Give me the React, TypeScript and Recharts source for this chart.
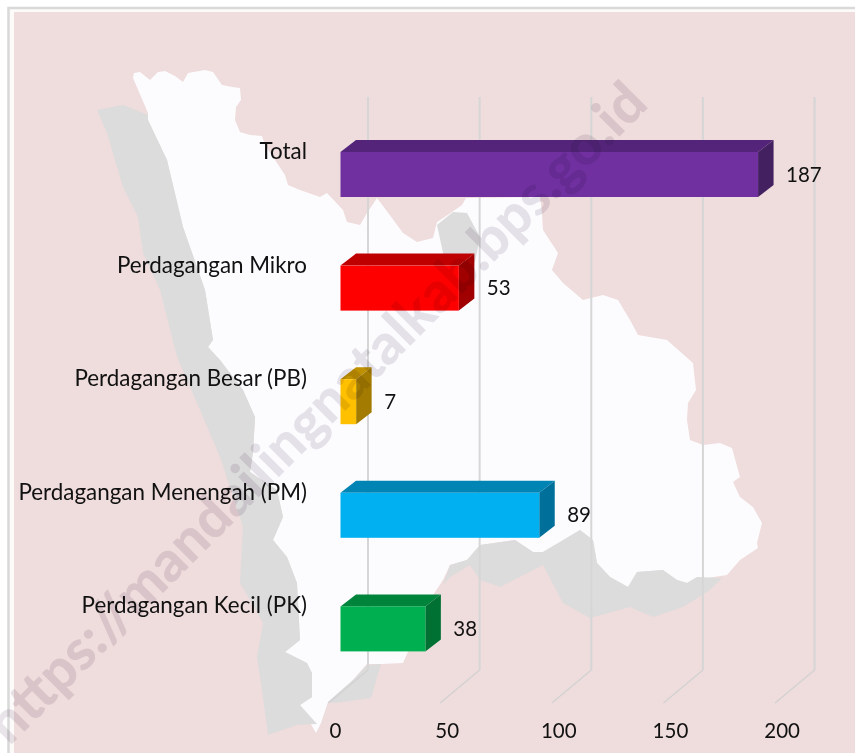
import React from "react";
import { BarChart, Bar, XAxis, YAxis, CartesianGrid, LabelList } from "recharts";

const categories = ["Total", "Perdagangan Mikro", "Perdagangan Besar (PB)", "Perdagangan Menengah (PM)", "Perdagangan Kecil (PK)"];
const values = [187, 53, 7, 89, 38];
const frontColors = ["#7030a0", "#ff0000", "#ffc000", "#00b0f0", "#00b050"];
const topColors = ["#53247a", "#bf0000", "#bf9000", "#0084b4", "#00843c"];
const sideColors = ["#43205f", "#a00000", "#a37b00", "#00709a", "#007033"];
const xTicks = [0, 50, 100, 150, 200];
const data = categories.map((name, i) => ({ name, value: values[i], front: frontColors[i], top: topColors[i], side: sideColors[i] }));

const FONT = "Lato, Carlito, sans-serif";
const DX = 15.5;
const DY = 12;

const landPts = "134,73 140,72 150,80 158,72 165,71 175,76 183,82 188,73 205,70 213,72 222,85 232,87 240,88 241,100 236,107 235,120 240,132 250,135 262,136 265,145 275,160 285,175 288,185 300,190 320,197 327,193 343,210 347,222 360,225 367,213 377,198 392,218 403,233 417,242 433,238 437,222 452,212 462,205 466,198 540,197 542,213 543,230 558,253 552,270 563,283 583,300 603,295 618,300 630,320 638,335 667,340 693,363 696,390 688,403 687,420 690,440 703,445 720,443 732,448 740,477 733,482 740,497 753,507 762,523 757,543 758,548 740,560 727,575 707,578 697,577 687,583 677,580 663,570 637,572 628,587 610,577 597,563 593,540 580,530 560,542 543,552 533,552 515,540 480,545 467,560 450,565 443,580 433,595 403,663 381,664 367,664 353,680 328,702 321,723 316,733 300,705 312,697 312,673 307,663 285,652 300,640 297,583 287,557 273,540 283,517 277,490 250,472 253,453 255,417 243,390 220,360 208,347 213,340 205,290 183,227 167,160 148,120 148,113 133,78";
const westPts = "97,110 123,105 148,115 148,120 167,160 183,227 205,290 213,340 208,347 220,360 243,390 255,417 253,453 250,472 277,490 283,517 273,540 287,557 297,583 300,640 285,652 307,663 312,673 312,697 300,705 317,724 297,725 268,735 262,690 257,657 263,623 240,583 243,527 220,457 203,417 177,357 160,290 143,253 138,217 123,187 107,133";
const southPts = "450,565 467,560 480,545 515,540 533,552 543,552 580,530 593,540 597,563 610,577 628,587 637,572 663,570 677,580 687,583 697,577 722,578 710,590 683,607 653,617 630,607 590,618 563,603 543,565 500,587 480,580 470,565 450,577 443,585";
const tipPts = "328,702 353,680 367,665 381,664 371,698 335,703";
const isletPts = "437,225 453,212 467,213 480,237 475,262 445,262";

function Bar3D(props: any) {
  const { x, y, width, height, payload } = props;
  return (
    <g>
      <polygon points={`${x},${y} ${x + DX},${y - DY} ${x + width + DX},${y - DY} ${x + width},${y}`} fill={payload.top} />
      <polygon points={`${x + width},${y} ${x + width + DX},${y - DY} ${x + width + DX},${y + height - DY} ${x + width},${y + height}`} fill={payload.side} />
      <rect x={x} y={y} width={width} height={height} fill={payload.front} />
    </g>
  );
}

function GridLine(props: any) {
  const { x1, y1, y2 } = props;
  const bx = x1 + 27.5;
  return (
    <g fill="none">
      <line x1={bx} x2={bx} y1={y1 - 21} y2={y2 - 16} stroke="#d6d6d6" strokeWidth={2} />
      <line x1={bx} x2={x1 - 12} y1={y2 - 16} y2={y2 + 17} stroke="#d2d2d2" strokeWidth={1.2} />
    </g>
  );
}

function XTick(props: any) {
  const { x, payload } = props;
  return (
    <text x={x - 5} y={733} textAnchor="middle" dominantBaseline="middle" fontFamily={FONT} fontSize={20.5} fill="#111">
      {payload.value}
    </text>
  );
}

function YTick(props: any) {
  const { y, payload } = props;
  return (
    <text x={307} y={y - 21.5} textAnchor="end" dominantBaseline="middle" fontFamily={FONT} fontSize={22.4} fill="#111">
      {payload.value}
    </text>
  );
}

function ValueLabel(props: any) {
  const { x, y, width, height, value } = props;
  return (
    <text x={x + width + 28} y={y + height / 2 + 2} textAnchor="start" dominantBaseline="middle" fontFamily={FONT} fontSize={20.5} fill="#111">
      {value}
    </text>
  );
}

export default function App() {
  return (
    <div style={{ position: "absolute", left: 0, top: 0, width: 855, height: 753, overflow: "hidden", background: "#fff" }}>
      <svg width={855} height={753} style={{ position: "absolute", left: 0, top: 0 }}>
        <rect x={8.5} y={8} width={860} height={760} fill="#fdfafa" stroke="#d9d9d9" strokeWidth={2.5} />
        <rect x={14} y={12} width={850} height={750} fill="#efdcdc" />
        <polygon points={landPts} fill="#fcfcff" />
        <polygon points={westPts} fill="#dcdcdc" />
        <polygon points={southPts} fill="#dcdcdc" />
        <polygon points={tipPts} fill="#dcdcdc" />
        <polygon points={isletPts} fill="#dcdcdc" />
      </svg>
      <div style={{ position: "absolute", left: 0, top: 0 }}>
        <BarChart
          width={855}
          height={753}
          layout="vertical"
          data={data}
          margin={{ left: 330.5, top: 118, right: 67.9, bottom: 57 }}
          barSize={45}
        >
          <CartesianGrid horizontal={false} vertical={(p: any) => <GridLine key={p.key} {...p} />} stroke="none" />
          <XAxis type="number" domain={[0, 200]} ticks={xTicks} height={10} axisLine={false} tickLine={false} tick={<XTick />} interval={0} />
          <YAxis type="category" dataKey="name" width={10} axisLine={false} tickLine={false} tick={<YTick />} interval={0} />
          <Bar dataKey="value" isAnimationActive={false} shape={<Bar3D />}>
            <LabelList dataKey="value" content={<ValueLabel />} />
          </Bar>
        </BarChart>
      </div>
      <svg width={855} height={753} style={{ position: "absolute", left: 0, top: 0, pointerEvents: "none", mixBlendMode: "multiply" }}>
        <text
          transform="rotate(-45 650 106)"
          x={650}
          y={106}
          textAnchor="end"
          fontFamily="Lato, sans-serif"
          fontWeight={900}
          fontSize={56}
          fill="#e8e4e9"
        >
          https://mandailingnatalkab.bps.go.id
        </text>
      </svg>
    </div>
  );
}
